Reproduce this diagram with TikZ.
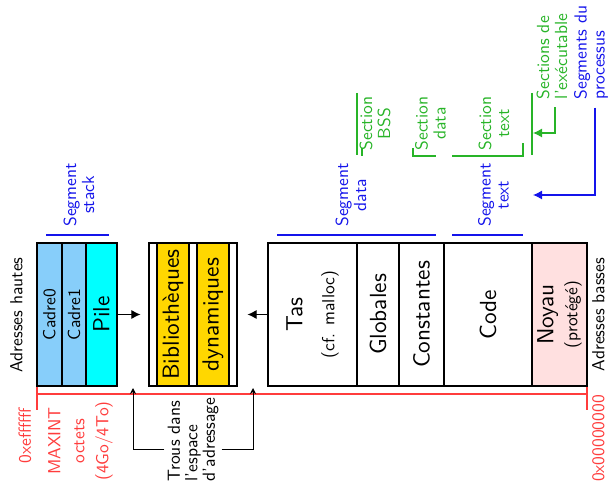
\documentclass[tikz,border=0pt]{standalone}
\usepackage{fontspec}
\setsansfont{lmsans10-regular.otf}
\usetikzlibrary{arrows.meta}
\definecolor{cadreblue}{RGB}{135,206,250}
\definecolor{pilecyan}{RGB}{0,255,255}
\definecolor{libyellow}{RGB}{255,215,0}
\definecolor{noyaupink}{RGB}{255,224,224}
\definecolor{myred}{RGB}{255,60,60}
\definecolor{myblue}{RGB}{20,20,235}
\definecolor{mygreen}{RGB}{40,180,40}
\newcommand\mysmall{\fontsize{17.5}{18}\selectfont}
\newcommand\mylarge{\fontsize{23.3}{32}\selectfont}
\begin{document}
\begin{tikzpicture}[x=1pt,y=1pt,
  lbl/.style={font=\sffamily\mysmall, rotate=90, inner sep=3pt},
  cell/.style={draw, line width=1.1pt, rotate=90, minimum width=143pt, inner sep=0pt, align=center, font=\sffamily\mylarge},
  arr/.style={line width=1pt, -{Latex[length=9pt,width=9pt]}},
  holearr/.style={line width=1pt, -{Stealth[length=6pt,width=6pt,inset=2pt]}},
  redline/.style={myred, line width=1.1pt},
  blueline/.style={myblue, line width=1.1pt},
  greenline/.style={mygreen, line width=1.1pt},
  bluearr/.style={myblue, line width=1.1pt, -{Latex[length=9pt,width=9pt]}},
  greenarr/.style={mygreen, line width=1.1pt, -{Latex[length=9pt,width=9pt]}}]
\useasboundingbox (0,0) rectangle (613,-494);

% memory cells
\node[cell, fill=cadreblue, minimum height=25pt, font=\sffamily\mysmall] (cadre0) at (49.5,-314.5) {Cadre0};
\node[cell, fill=cadreblue, minimum height=24pt, font=\sffamily\mysmall] (cadre1) at (74,-314.5) {Cadre1};
\node[cell, fill=pilecyan, minimum height=31pt] (pile) at (101.5,-314.5) {Pile};
\node[cell, fill=white, minimum height=88pt] (lib) at (193,-314.5) {};
\node[cell, fill=libyellow, minimum height=32pt] (bib) at (173,-314.5) {Bibliothèques};
\node[cell, fill=libyellow, minimum height=32pt] (dyn) at (213,-314.5) {dynamiques};
\node[cell, minimum height=89pt] (tas) at (312.5,-314.5) {Tas\\{\mysmall(cf. malloc)}};
\node[cell, minimum height=42pt] (glob) at (378,-314.5) {Globales};
\node[cell, minimum height=45pt] (const) at (421.5,-314.5) {Constantes};
\node[cell, minimum height=88pt] (code) at (488,-314.5) {Code};
\node[cell, fill=noyaupink, minimum height=55pt] (noyau) at (559.5,-314.5) {Noyau\\[-8pt]{\mysmall(protégé)}};

\draw[arr, shorten >=8pt] (pile.south) -- (lib.north);
\draw[arr, shorten >=10pt] (tas.north) -- (lib.south);

% address labels
\node[lbl] (hautes) at (16.5,-315) {Adresses hautes};
\node[lbl] (basses) at (598.5,-314.5) {Adresses basses};

% red address range
\draw[redline] (37,-394) -- (587,-394);
\draw[redline] (37,-387) -- (37,-410);
\draw[redline] (587,-387) -- (587,-410);
\node[lbl, text=myred] (hiaddr) at (25,-435.5) {0xeffffff};
\node[lbl, text=myred] (loaddr) at (598.5,-438.5) {0x00000000};
\node[lbl, text=myred, align=center, font=\sffamily\fontsize{17.5}{24}\selectfont] (maxint) at (80.5,-441) {MAXINT\\octets\\(4Go/4To)};

% holes
\node[lbl, align=left, font=\sffamily\fontsize{17.5}{17.5}\selectfont] (trous) at (193,-439.5) {Trous dans\\l'espace\\d'adressage};
\coordinate (holeA) at (133,-388);
\coordinate (holeB) at (253,-388);
\draw[holearr] ([yshift=-10pt]trous.north) -| (holeA);
\draw[holearr] ([yshift=-10pt]trous.south) -| (holeB);

% segments
\node[lbl, text=myblue, align=center] (segstack) at (79,-195) {Segment\\stack};
\node[lbl, text=myblue, align=center] (segdata) at (351,-195) {Segment\\data};
\node[lbl, text=myblue, align=center] (segtext) at (493.5,-195) {Segment\\text};
\draw[blueline] (46,-235) -- (109,-235);
\draw[blueline] (277,-235) -- (436,-235);
\draw[blueline] (452,-235) -- (523,-235);

% sections
\node[lbl, text=mygreen, align=center] (secbss) at (375,-123.5) {Section\\BSS};
\node[lbl, text=mygreen, align=center] (secdata) at (430.5,-123.5) {Section\\data};
\node[lbl, text=mygreen, align=center] (sectext) at (494,-123.5) {Section\\text};
\draw[greenline] (357,-93) -- (357,-155);
\draw[greenline] (362,-148) -- (362,-156);
\draw[greenline] (413,-148) -- (413,-156) -- (436,-156);
\draw[greenline] (452,-156) -- (523,-156) -- (523,-143);
\draw[greenline] (532,-93) -- (532,-155);

% legends
\node[lbl, text=mygreen, align=left] (secexe) at (552,-56.5) {Sections de\\l'exécutable};
\node[lbl, text=myblue, align=left] (segproc) at (591,-52.5) {Segments du\\processus};
\coordinate (sectip) at (533,-133);
\coordinate (segtip) at (533,-195);
\draw[greenarr] ([xshift=3pt,yshift=-5pt]secexe.west) |- (sectip);
\draw[bluearr] ([xshift=4pt,yshift=-5pt]segproc.west) |- (segtip);
\end{tikzpicture}
\end{document}
